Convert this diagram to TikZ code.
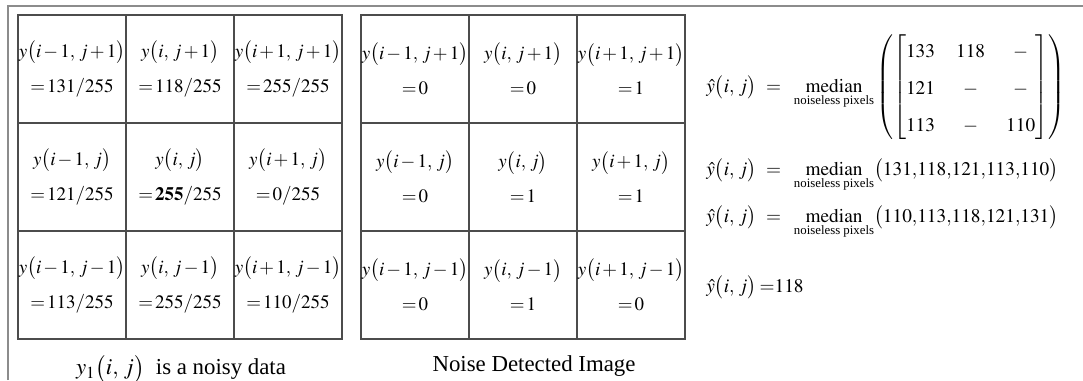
\documentclass[tikz,border=0pt]{standalone}
\usepackage{amsmath}
\usepackage{mathptmx}
\usepackage{fontspec}
\setmainfont{Liberation Serif}
\usetikzlibrary{positioning}
\tikzset{
  cell/.style={draw=black!70,line width=0.6pt,text width=2.16cm,
               minimum height=2.16cm,align=center,inner sep=0pt,
               font=\fontsize{10.8}{13}\selectfont},
  frameline/.style={draw=black!45,line width=1.1pt},
  eqn/.style={anchor=base west,inner sep=0pt,font=\fontsize{11}{13}\selectfont},
  captext/.style={inner sep=0pt,font=\fontsize{13}{15}\selectfont},
}
\newcommand{\pixval}[2]{$\medmuskip=2mu y\bigl(#1\bigr)$\\[7pt]${=}\,#2$}
\newcommand{\med}{\mathop{\mathrm{median}}\limits_{\text{\fontsize{7.3}{8}\selectfont noiseless pixels}}}
\newcommand{\yhat}{\hat{y}\bigl(i,\,j\bigr)\mkern9mu{=}\mkern10mu}

\begin{document}
\begin{tikzpicture}[x=0.02cm,y=-0.02cm]
  \useasboundingbox (0,0) rectangle (1083,380);
  % outer frame
  \draw[frameline] (8,380) -- (8,6) -- (1083,6);

  % noisy window
  \foreach \c/\r/\a/\v in {0/0/{i-1,\,j+1}/{131}, 1/0/{i,\,j+1}/{118}, 2/0/{i+1,\,j+1}/{255},
                           0/1/{i-1,\,j}/{121},   1/1/{i,\,j}/{\mathbf{255}}, 2/1/{i+1,\,j}/{0},
                           0/2/{i-1,\,j-1}/{113}, 1/2/{i,\,j-1}/{255}, 2/2/{i+1,\,j-1}/{110}}
    \node[cell] (n-\c-\r) at (72+108*\c,69+108*\r) {\pixval{\a}{\v/255}};
  \node[captext] (ncap) at (181,369) {$y_1\bigl(i,\,j\bigr)$\enspace is a noisy data};

  % detected window
  \foreach \c/\r/\a/\v in {0/0/{i-1,\,j+1}/0, 1/0/{i,\,j+1}/0, 2/0/{i+1,\,j+1}/1,
                           0/1/{i-1,\,j}/0,   1/1/{i,\,j}/1,   2/1/{i+1,\,j}/1,
                           0/2/{i-1,\,j-1}/0, 1/2/{i,\,j-1}/1, 2/2/{i+1,\,j-1}/0}
    \node[cell] (d-\c-\r) at (415+108*\c,69+108*\r) {\pixval{\a}{\v}};
  \node[captext] (dcap) at (534,366) {Noise Detected Image};

  % median steps
  \node[eqn] (e1) at (706,92) {$\yhat\med\left(\renewcommand{\arraystretch}{1.6}\setlength{\arraycolsep}{6pt}\begin{bmatrix}133&118&-\\121&-&-\\113&-&110\end{bmatrix}\right)$};
  \node[eqn] (e2) at (706,175) {$\yhat\med\bigl(131{,}118{,}121{,}113{,}110\bigr)$};
  \node[eqn] (e3) at (706,222) {$\yhat\med\bigl(110{,}113{,}118{,}121{,}131\bigr)$};
  \node[eqn] (e4) at (706,292) {$\hat{y}\bigl(i,\,j\bigr)\mkern3mu{=}118$};
\end{tikzpicture}
\end{document}
